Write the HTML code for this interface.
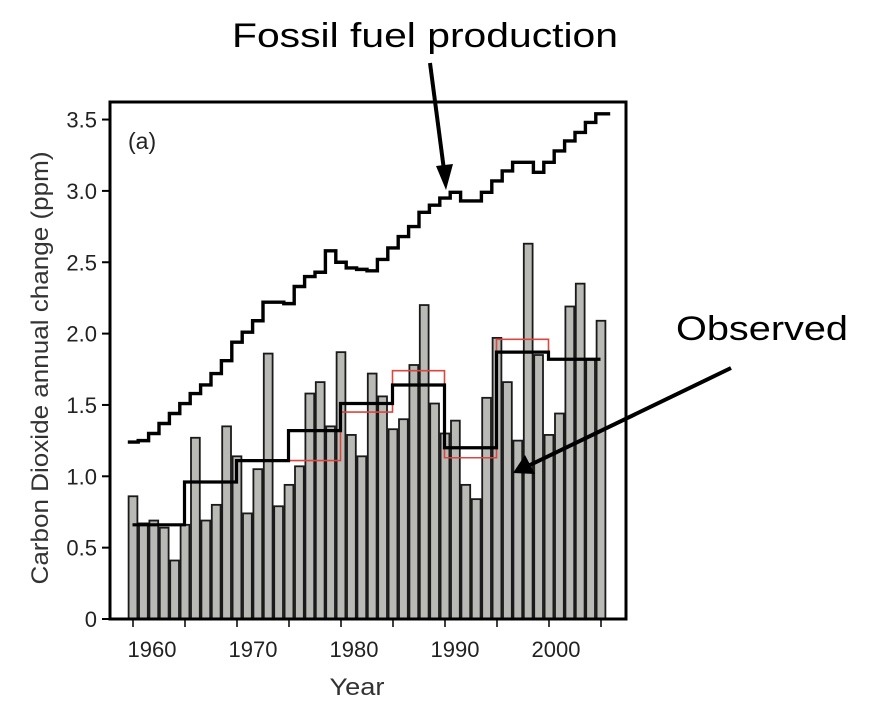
<!DOCTYPE html>
<html><head><meta charset="utf-8"><style>
html,body{margin:0;padding:0;background:#fff;}
svg{display:block;font-family:"Liberation Sans",Arial,sans-serif;}
</style></head><body>
<svg id="chart" width="872" height="710" viewBox="0 0 872 710">
<g id="bars"></g>
<g id="lines"></g>
<rect x="110" y="102" width="516" height="517" fill="none" stroke="#000" stroke-width="3"/>
<g id="axes"></g>
<text x="128" y="149" font-size="23" fill="#222">(a)</text>
<text x="357" y="695" font-size="24" textLength="55" lengthAdjust="spacingAndGlyphs" fill="#333" text-anchor="middle">Year</text>
<text transform="translate(48,368) rotate(-90)" font-size="24" textLength="433" lengthAdjust="spacingAndGlyphs" fill="#333" text-anchor="middle">Carbon Dioxide annual change (ppm)</text>
<text x="232" y="47" font-size="34" textLength="386" lengthAdjust="spacingAndGlyphs" fill="#000">Fossil fuel production</text>
<text x="676" y="340" font-size="34" textLength="172" lengthAdjust="spacingAndGlyphs" fill="#000">Observed</text>
<g>
<line x1="430" y1="63" x2="444" y2="170" stroke="#000" stroke-width="4"/>
<polygon points="446,190 436,166 453,164" fill="#000"/>
</g>
<g>
<line x1="731" y1="368" x2="530" y2="465" stroke="#000" stroke-width="4"/>
<polygon points="513,473 525,455 535,474" fill="#000"/>
</g>
</svg>
<script>
const years = [1960,1961,1962,1963,1964,1965,1966,1967,1968,1969,1970,1971,1972,1973,1974,1975,1976,1977,1978,1979,1980,1981,1982,1983,1984,1985,1986,1987,1988,1989,1990,1991,1992,1993,1994,1995,1996,1997,1998,1999,2000,2001,2002,2003,2004,2005];
const observed = [0.86,0.67,0.69,0.64,0.41,0.66,1.27,0.69,0.80,1.35,1.14,0.74,1.05,1.86,0.79,0.94,1.07,1.58,1.66,1.35,1.87,1.29,1.14,1.72,1.56,1.33,1.40,1.78,2.20,1.51,1.30,1.39,0.94,0.84,1.55,1.97,1.66,1.25,2.63,1.85,1.29,1.44,2.19,2.35,1.82,2.09];
const fossil = [1.24,1.25,1.30,1.37,1.44,1.51,1.58,1.64,1.72,1.81,1.94,2.01,2.09,2.22,2.22,2.21,2.33,2.40,2.43,2.58,2.50,2.46,2.45,2.44,2.52,2.60,2.68,2.75,2.85,2.90,2.95,2.99,2.93,2.93,2.99,3.07,3.14,3.20,3.20,3.13,3.20,3.28,3.35,3.41,3.48,3.54];
const periodStarts = [1960,1965,1970,1975,1980,1985,1990,1995,2000];
const meanObserved = [0.66,0.96,1.11,1.32,1.51,1.64,1.20,1.87,1.82];
const redStarts = [1975,1980,1985,1990,1995,2000];
const redMeans = [1.11,1.45,1.74,1.13,1.96,1.82];
const yTicks = [0,0.5,1.0,1.5,2.0,2.5,3.0,3.5];
const yTickLabels = ["0","0.5","1.0","1.5","2.0","2.5","3.0","3.5"];
const xTicks = [1960,1965,1970,1975,1980,1985,1990,1995,2000,2005];
const xLabelYears = [1960,1970,1980,1990,2000];

const NS='http://www.w3.org/2000/svg';
function x(t){return 133+(t-1960)*10.4;}
function xl(t){return 152+(t-1960)*10.1;}
function y(v){return 619-v*142.7;}
function mk(tag,attrs,parent){const e=document.createElementNS(NS,tag);for(const k in attrs)e.setAttribute(k,attrs[k]);parent.appendChild(e);return e;}
const gb=document.getElementById('bars'),gl=document.getElementById('lines'),ga=document.getElementById('axes');
years.forEach((yr,i)=>{
  const r=mk('rect',{x:x(yr)-4.4,y:y(observed[i]),width:8.8,height:619-y(observed[i]),fill:'#b9bab5',stroke:'#1a1a1a','stroke-width':1.8},gb);
  
  
});
let fd='';years.forEach((yr,i)=>{const x0=x(yr)-5.2,x1=x(yr)+5.2+(i===years.length-1?4:0);fd+=(i?'L':'M')+x0+','+y(fossil[i])+'L'+x1+','+y(fossil[i]);});
const fp=mk('path',{d:fd,fill:'none',stroke:'#000','stroke-width':3.4},gl);


let rd='';redStarts.forEach((s,i)=>{rd+=(i?'L':'M')+(x(s)-0.5)+','+y(redMeans[i])+'L'+(x(s+5)-0.5)+','+y(redMeans[i]);});
const rp=mk('path',{d:rd,fill:'none',stroke:'#d9473f','stroke-width':1.6},gl);


let bd='';periodStarts.forEach((s,i)=>{bd+=(i?'L':'M')+(x(s)-0.5)+','+y(meanObserved[i])+'L'+(x(s+5)-0.5)+','+y(meanObserved[i]);});
const bp=mk('path',{d:bd,fill:'none',stroke:'#000','stroke-width':3.2},gl);


yTicks.forEach((v,i)=>{
  mk('line',{x1:102,x2:110,y1:y(v),y2:y(v),stroke:'#000','stroke-width':2},ga);
  const t=mk('text',{x:97,y:y(v)+8,'font-size':22,fill:'#222','text-anchor':'end'},ga);
  t.textContent=yTickLabels[i];
  
  
});
xTicks.forEach(v=>{mk('line',{x1:x(v),x2:x(v),y1:619,y2:627,stroke:'#000','stroke-width':1.5},ga);});
xLabelYears.forEach(v=>{
  const t=mk('text',{x:xl(v),y:657,'font-size':22,fill:'#222','text-anchor':'middle'},ga);
  t.textContent=String(v);
  
  
});
</script>
</body></html>
